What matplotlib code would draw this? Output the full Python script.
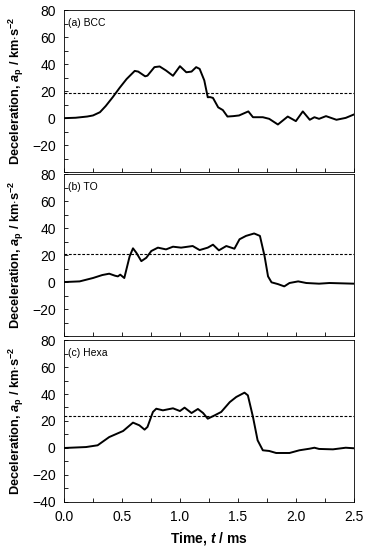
import numpy as np
import matplotlib.pyplot as plt
from matplotlib.ticker import MultipleLocator

plt.rcParams['font.family'] = ['Liberation Sans', 'DejaVu Sans']
plt.rcParams['mathtext.fontset'] = 'custom'
plt.rcParams['mathtext.rm'] = 'Liberation Sans'
plt.rcParams['mathtext.it'] = 'Liberation Sans:italic:bold'
plt.rcParams['mathtext.bf'] = 'Liberation Sans:bold'

# (a) BCC
t_bcc = [0, 0.1, 0.2, 0.25, 0.31, 0.36, 0.42, 0.48, 0.54, 0.61, 0.64, 0.70, 0.72, 0.78,
         0.825, 0.88, 0.94, 1.0, 1.055, 1.10, 1.14, 1.17, 1.21, 1.24, 1.26, 1.285, 1.33,
         1.37, 1.41, 1.46, 1.51, 1.59, 1.63, 1.715, 1.77, 1.845, 1.93, 2.0, 2.06, 2.12,
         2.16, 2.2, 2.26, 2.35, 2.43, 2.5]
a_bcc = [0, 0.3, 1.2, 2, 4.4, 9, 15.5, 22.5, 29, 35, 34.5, 31, 31.5, 37.8,
         38.3, 35.3, 31.4, 38.5, 34, 34.5, 37.8, 36.5, 28, 15.5, 15.6, 15, 8,
         6, 1.2, 1.5, 2, 5, 0.7, 0.7, -0.5, -4.7, 1.2, -2.2, 5, -1.2,
         0.7, -0.5, 1.5, -1.2, 0.2, 2.7]
mean_bcc = 19

# (b) TO
t_to = [0, 0.135, 0.25, 0.33, 0.39, 0.44, 0.465, 0.485, 0.52, 0.566, 0.595, 0.624,
        0.667, 0.71, 0.753, 0.81, 0.88, 0.94, 1.01, 1.11, 1.17, 1.24, 1.285, 1.336,
        1.4, 1.47, 1.514, 1.57, 1.64, 1.69, 1.73, 1.76, 1.79, 1.845, 1.90, 1.945,
        2.02, 2.09, 2.2, 2.29, 2.5]
a_to = [0, 0.5, 3, 5.2, 6.2, 4.7, 4.2, 5.5, 3, 19, 25, 21.7,
        15.5, 18, 23, 25.5, 24.2, 26.2, 25.5, 26.7, 23.7, 25.5, 27.7, 23.5,
        26.7, 24.7, 31.7, 34.2, 36, 34.2, 19.2, 4.2, -0.2, -1.5, -3.2, -0.7,
        0.5, -0.7, -1.2, -0.7, -1.2]
mean_to = 21

# (c) Hexa
t_hex = [0, 0.19, 0.29, 0.39, 0.51, 0.595, 0.65, 0.695, 0.72, 0.767, 0.796, 0.853,
         0.94, 1.0, 1.04, 1.10, 1.155, 1.2, 1.24, 1.30, 1.356, 1.43, 1.486, 1.557,
         1.586, 1.63, 1.67, 1.715, 1.77, 1.83, 1.89, 1.945, 2.03, 2.12, 2.16, 2.2,
         2.32, 2.43, 2.5]
a_hex = [0, 0.7, 2, 8.1, 12.6, 18.8, 16.8, 13.6, 15.6, 26.7, 29.1, 27.9,
         29.4, 27.4, 29.9, 25.9, 28.9, 25.9, 21.7, 24.2, 26.7, 34, 37.8, 41,
         39, 23, 5.7, -1.7, -2.2, -3.7, -3.7, -3.7, -1.7, -0.5, 0.2, -0.7,
         -1, 0.2, -0.2]
mean_hex = 24

panels = [("(a) BCC", t_bcc, a_bcc, mean_bcc),
          ("(b) TO", t_to, a_to, mean_to),
          ("(c) Hexa", t_hex, a_hex, mean_hex)]

fig = plt.figure(figsize=(3.73, 5.5), dpi=100)
left, width = 0.1716, 0.777
bottoms = [0.687, 0.389, 0.0873]
height = 0.2945
ylab = r'Deceleration, $\mathit{a}_\mathbf{p}$ / km$\mathbf{\cdot}$s$^{\mathbf{-2}}$'

for i, (name, t, a, m) in enumerate(panels):
    ax = fig.add_axes([left, bottoms[i], width, height])
    ax.plot(t, a, color='black', lw=1.4)
    ax.axhline(m, color='black', lw=0.8, ls=(0, (2.5, 1.5)))
    ax.set_xlim(0, 2.5)
    ax.set_ylim(-40, 80)
    ax.xaxis.set_major_locator(MultipleLocator(0.5))
    ax.xaxis.set_minor_locator(MultipleLocator(0.25))
    ax.yaxis.set_major_locator(MultipleLocator(20))
    ax.yaxis.set_minor_locator(MultipleLocator(10))
    ax.tick_params(which='both', direction='in', top=False, right=False,
                   labelsize=10, width=0.6, length=3, pad=6)
    if i < 2:
        ax.set_yticks([-20, 0, 20, 40, 60, 80])
        ax.set_xticklabels([])
    else:
        ax.set_yticks([-40, -20, 0, 20, 40, 60, 80])
        ax.set_xlabel(r'Time, $\mathit{t}$ / ms', fontsize=10, fontweight='bold',
                      labelpad=4)
    for s in ax.spines.values():
        s.set_linewidth(0.6)
    ax.set_ylabel(ylab, fontsize=9.2, fontweight='bold', labelpad=4)
    ax.text(0.015, 0.95, name, transform=ax.transAxes, fontsize=7.5, va='top')

fig.savefig('out.png', dpi=100)
